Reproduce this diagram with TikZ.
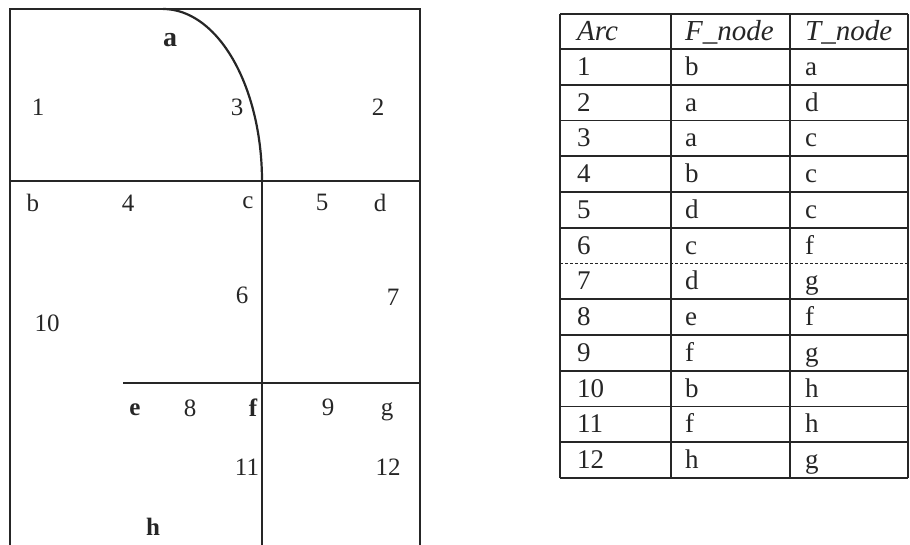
\documentclass[tikz,border=0pt]{standalone}
\usepackage{fontspec}
\setmainfont{Liberation Serif}
\usetikzlibrary{positioning}
\tikzset{
  wall/.style={draw=black!85, line width=2.2pt},
  rule/.style={draw=black!85, line width=1.8pt},
  lbl/.style={font=\fontsize{25}{27}\selectfont, inner sep=0pt, text=black!85},
  blbl/.style={lbl, font=\fontsize{25}{27}\selectfont\bfseries},
  cell/.style={font=\fontsize{27}{29}\selectfont, anchor=base west, inner sep=0pt, text=black!85},
  head/.style={cell, font=\fontsize{29}{30}\selectfont\itshape},
}
\begin{document}
\begin{tikzpicture}[x=1pt, y=-1pt]
\useasboundingbox (0,0) rectangle (910,545);
% map outline and arcs
\coordinate (tl) at (10,9);
\coordinate (tr) at (420,9);
\coordinate (bl) at (10,545);
\coordinate (br) at (420,545);
\coordinate (ml) at (10,181);
\coordinate (mr) at (420,181);
\coordinate (cn) at (262,181);
\coordinate (cs) at (262,545);
\coordinate (en) at (123,383);
\coordinate (gn) at (420,383);
\draw[wall] (bl) -- (tl) -- (tr) -- (br);
\draw[wall] (ml) -- (mr);
\draw[wall] (cn) -- (cs);
\draw[wall] (en) -- (gn);
\draw[wall] plot[smooth, samples=40, domain=0:90] ({163+99*sin(\x)},{181-172*cos(\x)});
% node labels
\node[blbl, font=\fontsize{28}{30}\selectfont\bfseries] (na) at (170,40) {a};
\node[lbl] (nb) at (33,203) {b};
\node[lbl] (nc) at (248,203) {c};
\node[lbl] (nd) at (380,203) {d};
\node[blbl] (ne) at (135,410) {e};
\node[blbl] (nf) at (253,408) {f};
\node[lbl] (ng) at (387,412) {g};
\node[blbl] (nh) at (153,527) {h};
% arc labels
\node[lbl] (r1) at (38,107) {1};
\node[lbl] (r2) at (378,107) {2};
\node[lbl] (r3) at (237,107) {3};
\node[lbl] (r4) at (128,203) {4};
\node[lbl] (r5) at (322,202) {5};
\node[lbl] (r6) at (242,295) {6};
\node[lbl] (r7) at (393,297) {7};
\node[lbl] (r8) at (190,408) {8};
\node[lbl] (r9) at (328,407) {9};
\node[lbl] (r10) at (47,323) {10};
\node[lbl] (r11) at (247,467) {11};
\node[lbl] (r12) at (388,467) {12};
% arc table
\foreach \xc in {560,671,790,908}
  \draw[rule] (\xc,14) -- (\xc,478);
\draw[rule] (560,14) -- (908,14);
\draw[rule] (560,49) -- (908,49);
\node[head] (hArc) at (577,41) {Arc};
\node[head] (hF) at (685,41) {F\_node};
\node[head] (hT) at (805,41) {T\_node};
\foreach \n/\f/\t [count=\k] in {1/b/a, 2/a/d, 3/a/c, 4/b/c, 5/d/c, 6/c/f,
    7/d/g, 8/e/f, 9/f/g, 10/b/h, 11/f/h, 12/h/g} {
  \pgfmathsetmacro{\yb}{49+\k*35.75}
  \pgfmathsetmacro{\yt}{49+(\k-0.5)*35.75+8.5}
  \ifnum\k=6
    \draw[rule, line width=1pt, densely dashed] (560,\yb) -- (908,\yb);
  \else
    \draw[rule] (560,\yb) -- (908,\yb);
  \fi
  \node[cell] (arc\k) at (577,\yt) {\n};
  \node[cell] (fn\k) at (685,\yt) {\f};
  \node[cell] (tn\k) at (805,\yt) {\t};
}
\end{tikzpicture}
\end{document}
